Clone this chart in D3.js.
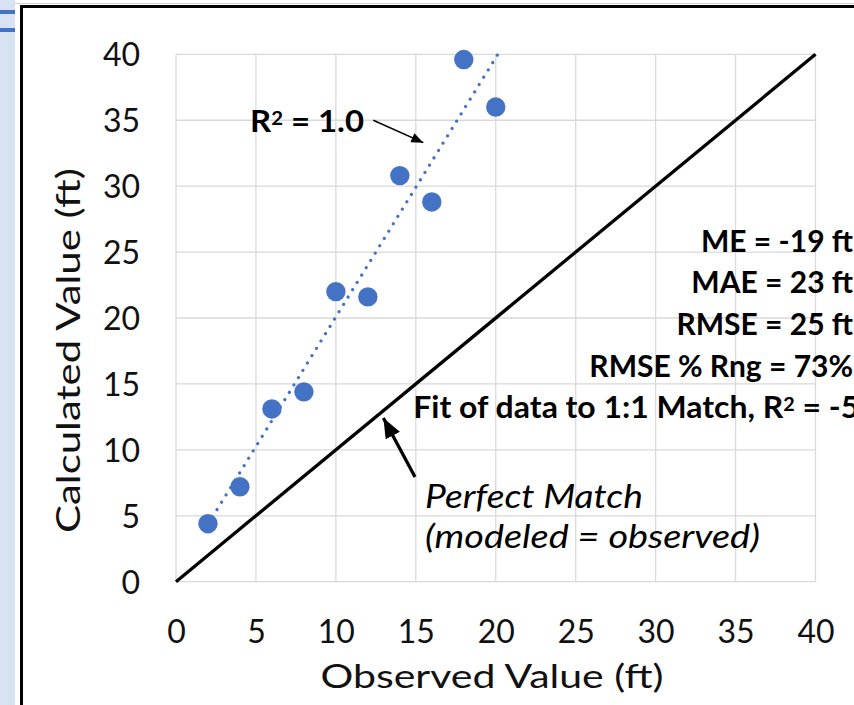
<!DOCTYPE html>
<html><head><meta charset="utf-8">
<script src="https://cdn.jsdelivr.net/npm/d3@7"></script>
<style>html,body{margin:0;padding:0;background:#fff;overflow:hidden}</style>
</head><body>
<svg id="chart" width="854" height="705"></svg>
<script>
// ---- data ----
const observed   = [2, 4, 6, 8, 10, 12, 14, 16, 18, 20];
const calculated = [4.4, 7.2, 13.1, 14.4, 22.0, 21.6, 30.8, 28.8, 39.6, 36.0];
const xTicks = [0, 5, 10, 15, 20, 25, 30, 35, 40];
const yTicks = [0, 5, 10, 15, 20, 25, 30, 35, 40];
const perfectX = [0, 40];
const perfectY = [0, 40];
const trendX = [2, 20.13];
const trendY = [4.36, 40];
const statLabels = ["ME = -19 ft", "MAE = 23 ft", "RMSE = 25 ft", "RMSE % Rng = 73%"];
const statY = [25.0, 21.89, 18.71, 15.52];
const fitLabel = "Fit of data to 1:1 Match, R² = -5";
const r2Label = "R² = 1.0";
const perfectLabels = ["Perfect Match", "(modeled = observed)"];
const xTitle = "Observed Value (ft)";
const yTitle = "Calculated Value (ft)";

// ---- layout ----
const svg = d3.select("#chart");
const W = 854, H = 705;
const x = d3.scaleLinear().domain([0, 40]).range([176, 815.5]);
const y = d3.scaleLinear().domain([0, 40]).range([581.7, 54.3]);
const FONT = "Lato, 'Open Sans', sans-serif";
const BLUE = "#4472c4";

// helper: write text with a real superscript "2"
function supText(sel, str) {
  const parts = str.split("²");
  sel.append("tspan").text(parts[0]);
  for (let i = 1; i < parts.length; i++) {
    sel.append("tspan").attr("font-size", "62%").attr("baseline-shift", "38%").text("2");
    sel.append("tspan").text(parts[i]);
  }
}

// window chrome: left strip & frame
svg.append("rect").attr("x", 0).attr("y", 0).attr("width", 15).attr("height", H).attr("fill", "#d9e2f3");
svg.append("rect").attr("x", 0).attr("y", 10).attr("width", 15).attr("height", 4).attr("fill", BLUE);
svg.append("rect").attr("x", 0).attr("y", 28).attr("width", 15).attr("height", 4).attr("fill", BLUE);
svg.append("line").attr("x1", 15).attr("x2", W).attr("y1", 3.5).attr("y2", 3.5).attr("stroke", "#d0d0d0").attr("stroke-width", 1);
svg.append("path").attr("d", `M21.5,${H + 5} L21.5,6.5 L${W + 5},6.5`).attr("fill", "none").attr("stroke", "#000").attr("stroke-width", 3);

// gridlines
const grid = svg.append("g");
grid.selectAll("line.v").data(xTicks).join("line").attr("class", "v")
  .attr("x1", d => x(d)).attr("x2", d => x(d)).attr("y1", y(0)).attr("y2", y(40))
  .attr("stroke", "#d9d9d9").attr("stroke-width", 1.3);
grid.selectAll("line.h").data(yTicks).join("line").attr("class", "h")
  .attr("y1", d => y(d)).attr("y2", d => y(d)).attr("x1", x(0)).attr("x2", x(40))
  .attr("stroke", "#d9d9d9").attr("stroke-width", 1.3);

// axes
const xAxis = svg.append("g").attr("transform", `translate(0,${y(0)})`)
  .call(d3.axisBottom(x).tickValues(xTicks).tickSize(0).tickPadding(38.5));
const yAxis = svg.append("g").attr("transform", `translate(${x(0)},0)`)
  .call(d3.axisLeft(y).tickValues(yTicks).tickSize(0).tickPadding(36));
[xAxis, yAxis].forEach(a => {
  a.select(".domain").remove();
  a.selectAll("text").attr("font-family", FONT).attr("font-size", 32).attr("fill", "#111");
});
yAxis.selectAll("text").attr("dy", "0.36em");

// axis titles
svg.append("text").attr("x", 492).attr("y", 688.3).attr("text-anchor", "middle")
  .attr("font-family", FONT).attr("font-size", 32).attr("fill", "#111")
  .attr("textLength", 343).attr("lengthAdjust", "spacingAndGlyphs").text(xTitle);
svg.append("text").attr("transform", "translate(80,350.5) rotate(-90)").attr("text-anchor", "middle")
  .attr("font-family", FONT).attr("font-size", 32).attr("fill", "#111")
  .attr("textLength", 365).attr("lengthAdjust", "spacingAndGlyphs").text(yTitle);

// 1:1 line
const line = d3.line().x(d => x(d[0])).y(d => y(d[1]));
svg.append("path").attr("d", line(d3.zip(perfectX, perfectY)))
  .attr("fill", "none").attr("stroke", "#000").attr("stroke-width", 3.3);

// trend line (dotted)
svg.append("path").attr("d", line(d3.zip(trendX, trendY)))
  .attr("fill", "none").attr("stroke", BLUE).attr("stroke-width", 3.2)
  .attr("stroke-linecap", "round").attr("stroke-dasharray", "0.01 8.6");

// points
svg.append("g").selectAll("circle").data(d3.zip(observed, calculated)).join("circle")
  .attr("cx", d => x(d[0])).attr("cy", d => y(d[1])).attr("r", 9.7).attr("fill", BLUE);

// arrow markers
const defs = svg.append("defs");
defs.append("marker").attr("id", "headSmall").attr("markerUnits", "userSpaceOnUse")
  .attr("viewBox", "0 0 12 10").attr("refX", 12).attr("refY", 5)
  .attr("markerWidth", 13).attr("markerHeight", 10).attr("orient", "auto")
  .append("path").attr("d", "M0,0 L12,5 L0,10 Z").attr("fill", "#000");
defs.append("marker").attr("id", "headBig").attr("markerUnits", "userSpaceOnUse")
  .attr("viewBox", "0 0 20 16").attr("refX", 20).attr("refY", 8)
  .attr("markerWidth", 20).attr("markerHeight", 16).attr("orient", "auto")
  .append("path").attr("d", "M0,0 L20,8 L0,16 Z").attr("fill", "#000");

// R² annotation
const r2Arrow = [[12.34, 35.0], [15.47, 33.3]];
svg.append("line").attr("x1", x(r2Arrow[0][0])).attr("y1", y(r2Arrow[0][1]))
  .attr("x2", x(r2Arrow[1][0])).attr("y2", y(r2Arrow[1][1]))
  .attr("stroke", "#000").attr("stroke-width", 1.5).attr("marker-end", "url(#headSmall)");
svg.append("text").attr("x", x(4.63)).attr("y", y(34.08))
  .attr("font-family", FONT).attr("font-weight", 700).attr("font-size", 31).attr("fill", "#000")
  .attr("textLength", 114).attr("lengthAdjust", "spacingAndGlyphs")
  .call(supText, r2Label);

// stats
svg.append("g").selectAll("text").data(d3.zip(statLabels, statY)).join("text")
  .attr("x", x(42.35)).attr("y", d => y(d[1])).attr("text-anchor", "end")
  .attr("font-family", FONT).attr("font-weight", 700).attr("font-size", 30).attr("fill", "#000")
  .text(d => d[0]);
svg.append("text").attr("x", x(14.84)).attr("y", y(12.42))
  .attr("font-family", FONT).attr("font-weight", 700).attr("font-size", 30).attr("fill", "#000")
  .attr("textLength", 446).attr("lengthAdjust", "spacingAndGlyphs")
  .call(supText, fitLabel);

// perfect match annotation
const pmArrow = [[14.95, 7.94], [12.97, 12.42]];
svg.append("line").attr("x1", x(pmArrow[0][0])).attr("y1", y(pmArrow[0][1]))
  .attr("x2", x(pmArrow[1][0])).attr("y2", y(pmArrow[1][1]))
  .attr("stroke", "#000").attr("stroke-width", 3.3).attr("marker-end", "url(#headBig)");
const pmWidths = [218, 335];
svg.append("g").selectAll("text").data(d3.zip(perfectLabels, [5.57, 2.56], pmWidths)).join("text")
  .attr("x", x(15.57)).attr("y", d => y(d[1]))
  .attr("font-family", FONT).attr("font-style", "italic").attr("font-size", 33).attr("fill", "#000")
  .attr("textLength", d => d[2]).attr("lengthAdjust", "spacingAndGlyphs")
  .text(d => d[0]);
</script>
</body></html>
